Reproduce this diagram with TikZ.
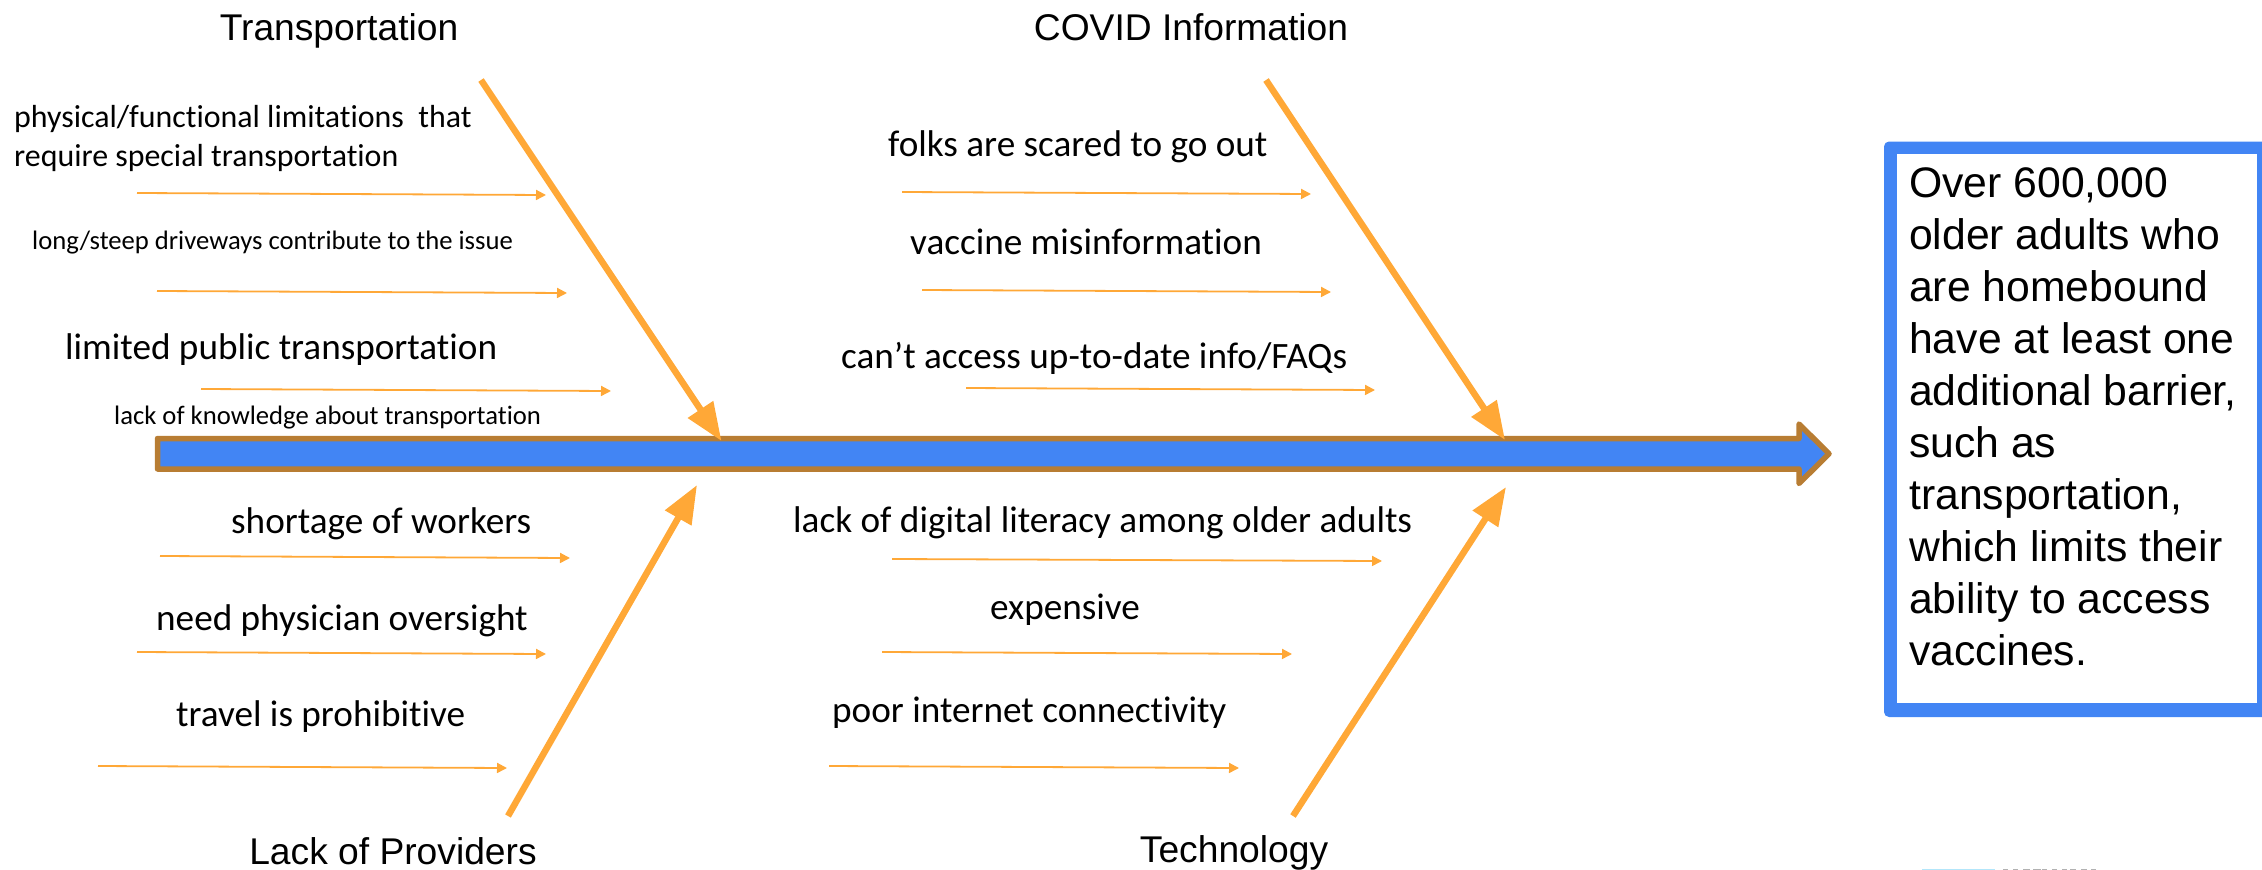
\documentclass[tikz,border=0pt]{standalone}
\usepackage{fontspec}
\setmainfont[Ligatures=NoCommon]{Carlito}
\newfontfamily\arialf{Liberation Sans}
\usetikzlibrary{arrows.meta}
\definecolor{fishorange}{HTML}{FFA837}
\definecolor{spinebrown}{HTML}{B87D33}
\definecolor{spineblue}{HTML}{4285F4}
\tikzset{
  x=1pt,y=-1pt,
  bigbone/.style={draw=fishorange,line width=6.5pt,-{Triangle[length=38pt,width=29pt,fill=fishorange]}},
  smallbone/.style={draw=fishorange,line width=1.8pt,-{Triangle[length=10pt,width=10pt,fill=fishorange]}},
  cat/.style={font=\arialf\fontsize{37.2}{44}\selectfont,inner sep=0pt,text=black},
  item/.style={inner sep=0pt,text=black,anchor=base west},
  it34/.style={item,font=\fontsize{37.2}{44}\selectfont},
  it28/.style={item,font=\fontsize{31.9}{38}\selectfont},
  it24/.style={item,font=\fontsize{26.65}{32}\selectfont},
  summary/.style={inner sep=0pt,text=black,anchor=base west,font=\arialf\fontsize{42.7}{52}\selectfont},
}
\begin{document}
\begin{tikzpicture}
\useasboundingbox (0,0) rectangle (2262,870);
\clip (0,0) rectangle (2262,870);
% spine
\draw[fill=spineblue,draw=spinebrown,line width=5.5pt,line join=round]
  (157.5,438.5) -- (1799,438.5) -- (1799,424) -- (1829,453.75) -- (1799,483.5) -- (1799,469) -- (157.5,469) -- cycle;
% category labels
\node[cat] (t1) at (339,31) {Transportation};
\node[cat] (t2) at (1191,27) {COVID Information};
\node[cat] (t3) at (393,851) {Lack of Providers};
\node[cat] (t4) at (1234,853) {Technology};
% main bones
\coordinate (a1) at (481,80); \coordinate (a2) at (721.5,441);
\coordinate (b1) at (1266,80); \coordinate (b2) at (1505,440);
\coordinate (c1) at (508,816); \coordinate (c2) at (697,485);
\coordinate (d1) at (1293,816); \coordinate (d2) at (1506,487);
\draw[bigbone] (a1) -- (a2);
\draw[bigbone] (b1) -- (b2);
\draw[bigbone] (c1) -- (c2);
\draw[bigbone] (d1) -- (d2);
% small bones
\foreach \n/\xa/\ya/\xb/\yb in {
  s1/137/193/546/195, s2/157/291/567/293, s3/201/389/611/391,
  s4/160/556/570/558, s5/137/652/546/654, s6/98/766/507/768,
  s7/902/192/1311/194, s8/922/290/1331/292, s9/966/388/1375/390,
  s10/892/559/1382/561, s11/882/652/1292/654, s12/829/766/1239/768}{
  \coordinate (\n a) at (\xa,\ya); \coordinate (\n b) at (\xb,\yb);
  \draw[smallbone] (\n a) -- (\n b);
}
% items
\node[it28] (i1) at (14,127.5) {physical/functional limitations\ \ that};
\node[it28] (i1b) at (14,166) {require special transportation};
\node[it24] (i2) at (32,249) {long/steep driveways contribute to the issue};
\node[it34] (i3) at (65,359) {limited public transportation};
\node[it24] (i4) at (114,424.5) {lack of knowledge about transportation};
\node[it34] (i5) at (231,533) {shortage of workers};
\node[it34] (i6) at (156,630) {need physician oversight};
\node[it34] (i7) at (176,726) {travel is prohibitive};
\node[it34] (i8) at (888,156) {folks are scared to go out};
\node[it34] (i9) at (910,254) {vaccine misinformation};
\node[it34] (i10) at (841,368) {can’t access up-to-date info/FAQs};
\node[it34] (i11) at (793,532) {lack of digital literacy among older adults};
\node[it34] (i12) at (990,619) {expensive};
\node[it34] (i13) at (832,722) {poor internet connectivity};
% summary
\fill[spineblue,rounded corners=5pt] (1884,141.5) rectangle (2300,717);
\fill[white] (1897,154) rectangle (2257,703);
\node[summary] (m1) at (1909,197) {Over 600,000};
\node[summary] (m2) at (1909,249) {older adults who};
\node[summary] (m3) at (1909,301) {are homebound};
\node[summary] (m4) at (1909,353) {have at least one};
\node[summary] (m5) at (1909,405) {additional barrier,};
\node[summary] (m6) at (1909,457) {such as};
\node[summary] (m7) at (1909,509) {transportation,};
\node[summary] (m8) at (1909,561) {which limits their};
\node[summary] (m9) at (1909,613) {ability to access};
\node[summary] (m10) at (1909,665) {vaccines.};
% cut-off logo at the lower edge
\fill[cyan!30!white] (1922,868.6) rectangle (1995,870);
\foreach \xa/\xb in {2003/2008,2013/2018,2023/2030,2033/2041,2042/2047,2052/2057,2062/2067,2070/2076,2081/2087,2091/2096}
  \fill[black!30] (\xa,868.6) rectangle (\xb,870);
\end{tikzpicture}
\end{document}
